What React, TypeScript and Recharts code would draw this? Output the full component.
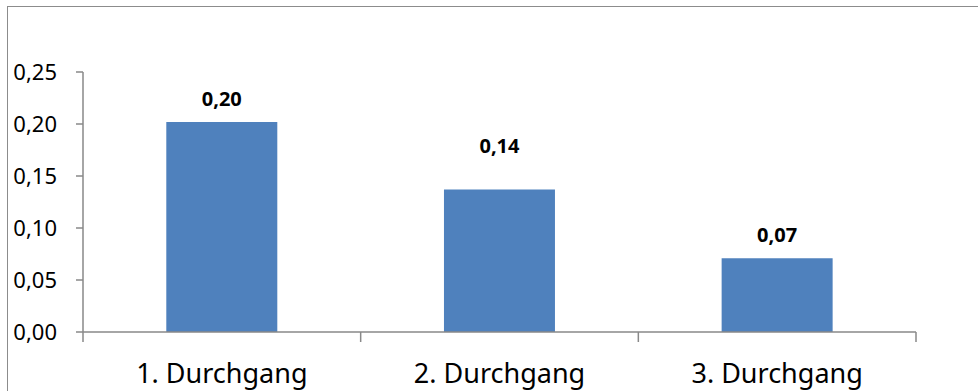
import { BarChart, Bar, XAxis, YAxis, LabelList } from "recharts";

const passes = ["1. Durchgang", "2. Durchgang", "3. Durchgang"];
const scores = [0.202, 0.137, 0.071];
const yTicks = [0, 0.05, 0.1, 0.15, 0.2, 0.25];

const data = passes.map((name, i) => ({ name, value: scores[i] }));

const W = 978;
const H = 391;
const PLOT_LEFT = 83;
const PLOT_RIGHT = 916;
const BAND = (PLOT_RIGHT - PLOT_LEFT) / passes.length;
const AXIS = "#898989";
const FONT = "'Noto Sans', 'Open Sans', sans-serif";

// Excel-style value labels sit at slightly different heights above each bar
const labelLift = [23, 44, 24];

const comma = (v: number) => v.toFixed(2).replace(".", ",");

function CategoryTick(props: any) {
  const { x, y, payload, index } = props;
  const half = BAND / 2;
  return (
    <g>
      <line x1={x - half} x2={x - half} y1={y} y2={y + 10} stroke={AXIS} strokeWidth={1.5} />
      {index === passes.length - 1 && (
        <line x1={x + half} x2={x + half} y1={y} y2={y + 10} stroke={AXIS} strokeWidth={1.5} />
      )}
      <text x={x} y={y + 51} textAnchor="middle" fill="#000" fontSize={27} fontFamily={FONT}>
        {payload.value}
      </text>
    </g>
  );
}

function ValueLabel(props: any) {
  const { x, y, width, value, index } = props;
  return (
    <text
      x={x + width / 2}
      y={y - labelLift[index]}
      textAnchor="middle"
      dominantBaseline="central"
      fill="#000"
      fontSize={20}
      fontWeight="bold"
      fontFamily={FONT}
    >
      {comma(value)}
    </text>
  );
}

export default function App() {
  return (
    <div style={{ position: "absolute", left: 0, top: 0, width: W, height: H, background: "#fff", overflow: "hidden" }}>
      <div
        style={{
          position: "absolute",
          left: 7,
          top: 6,
          width: W + 20,
          height: H + 20,
          border: "1.5px solid #8c8c8c",
        }}
      />
      <div style={{ position: "absolute", left: 0, top: 0 }}>
        <BarChart width={W} height={H} data={data} margin={{ top: 72, right: W - PLOT_RIGHT, bottom: 0, left: 0 }} barCategoryGap="30%">
          <YAxis
            width={PLOT_LEFT}
            domain={[0, 0.25]}
            ticks={yTicks}
            tickFormatter={comma}
            tickSize={7}
            tickMargin={19}
            axisLine={{ stroke: AXIS, strokeWidth: 1.5 }}
            tickLine={{ stroke: AXIS, strokeWidth: 1.5 }}
            tick={{ fill: "#000", fontSize: 22, fontFamily: FONT }}
          />
          <XAxis
            dataKey="name"
            height={59}
            tickSize={0}
            tickMargin={0}
            tickLine={false}
            axisLine={{ stroke: AXIS, strokeWidth: 1.5 }}
            tick={<CategoryTick />}
            interval={0}
          />
          <Bar dataKey="value" fill="#4F81BD" isAnimationActive={false}>
            <LabelList dataKey="value" content={<ValueLabel />} />
          </Bar>
        </BarChart>
      </div>
    </div>
  );
}
